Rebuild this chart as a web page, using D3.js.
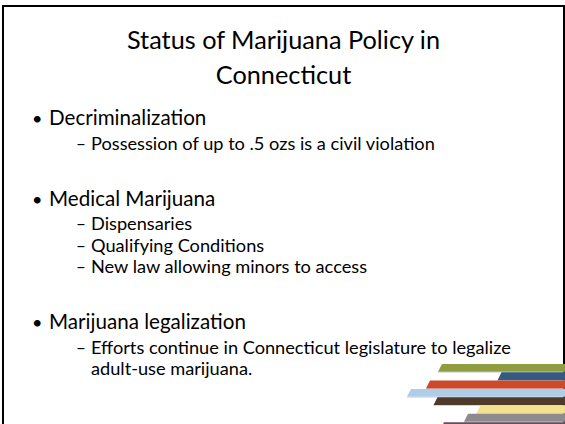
<!DOCTYPE html>
<html>
<head>
<meta charset="utf-8">
<script src="https://cdn.jsdelivr.net/npm/d3@7"></script>
<style>
  body { margin: 0; background: #fff; }
  svg { display: block; font-family: Lato, 'Open Sans', sans-serif; }
</style>
</head>
<body>
<svg id="slide"></svg>
<script>
// slide text
const titleLines = ['Status of Marijuana Policy in', 'Connecticut']
const lineTexts = [
  'Decriminalization',
  'Possession of up to .5 ozs is a civil violation',
  '',
  'Medical Marijuana',
  'Dispensaries',
  'Qualifying Conditions',
  'New law allowing minors to access',
  '',
  'Marijuana legalization',
  'Efforts continue in Connecticut legislature to legalize',
  'adult-use marijuana.'
]
const lineLevels = [1, 2, 1, 1, 2, 2, 2, 1, 1, 2, 2]
const lineMarkers = ['•', '–', '', '•', '–', '–', '–', '', '•', '–', '']

// decorative stripes, bottom right (length measured from right edge)
const stripeColors = ['#8f9c3f', '#355a82', '#cc4a29', '#afcde8', '#4f3a29', '#f2e08f', '#8c8c8e', '#6b4b5f']
const stripeLengths = [125, 65.5, 137, 156, 129.5, 86.5, 99, 123]

const w = 565
const h = 424

const svg = d3.select('#slide')
              .attr('width', w)
              .attr('height', h)

// slide frame
svg.append('rect')
   .attr('x', 3)
   .attr('y', 6)
   .attr('width', 561)
   .attr('height', 480)
   .attr('fill', 'none')
   .attr('stroke', '#000')
   .attr('stroke-width', 2)

// stripes
const stripeY = d3.scaleBand()
                  .domain(d3.range(stripeColors.length))
                  .range([364, 364 + stripeColors.length * 8.25])
                  .paddingInner(0.06)
const stripeX = d3.scaleLinear().domain([0, 160]).range([0, 160])
const slant = 4

const stripes = svg.append('g')
                   .selectAll('g')
                   .data(stripeLengths)
                   .enter()
                   .append('g')

// faint shadow under each stripe
stripes.append('path')
       .attr('fill', '#c8c8c8')
       .attr('d', (d, i) => {
         const y1 = stripeY(i) + stripeY.bandwidth()
         const x = w - stripeX(d)
         return `M${x - slant / 2},${y1} L${w},${y1} L${w},${y1 + 0.8} L${x - slant / 2},${y1 + 0.8} Z`
       })

stripes.append('path')
       .attr('fill', (d, i) => stripeColors[i])
       .attr('d', (d, i) => {
         const y0 = stripeY(i)
         const y1 = y0 + stripeY.bandwidth()
         const x = w - stripeX(d)
         return `M${x + slant / 2},${y0} L${w},${y0} L${w},${y1} L${x - slant / 2},${y1} Z`
       })

// title
svg.append('g')
   .selectAll('text')
   .data(titleLines)
   .enter()
   .append('text')
   .text(d => d)
   .attr('x', 283.5)
   .attr('y', (d, i) => 49 + i * 35)
   .attr('text-anchor', 'middle')
   .style('font-size', '25.3px')
   .attr('fill', '#000')

// body lines: baselines from level spacing
let y = 125
const baselines = lineLevels.map((lvl, i) => {
  if (i > 0) {
    if (lvl === 1) y += 28
    else y += 21.5 + (lineLevels[i - 1] === 1 ? 3 : 0)
  }
  return y
})

const rows = svg.append('g')
                .selectAll('g')
                .data(lineTexts)
                .enter()
                .append('g')
                .attr('transform', (d, i) => `translate(0, ${baselines[i]})`)

rows.append('text')
    .text((d, i) => lineMarkers[i])
    .attr('x', (d, i) => lineLevels[i] === 1 ? 32 : 76)
    .style('font-size', (d, i) => lineLevels[i] === 1 ? '18px' : '17px')

rows.append('text')
    .text(d => d)
    .attr('x', (d, i) => lineLevels[i] === 1 ? 49 : 91)
    .style('font-size', (d, i) => lineLevels[i] === 1 ? '20.6px' : '18.2px')
</script>
</body>
</html>
